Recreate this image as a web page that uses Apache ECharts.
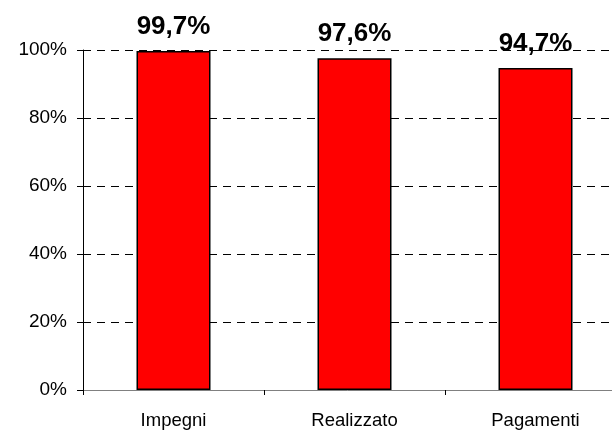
<!DOCTYPE html>
<html>
<head>
<meta charset="utf-8">
<script src="https://cdn.jsdelivr.net/npm/echarts@6/dist/echarts.min.js"></script>
<style>
  html, body { margin: 0; padding: 0; background: #fff; }
  #chart { width: 612px; height: 431px; }
</style>
</head>
<body>
<div id="chart"></div>
<script>
// dati
var categorie = ['Impegni', 'Realizzato', 'Pagamenti'];
var valori = [99.7, 97.6, 94.7];
var tickY = [0, 20, 40, 60, 80, 100];

var myChart = echarts.init(document.getElementById('chart'));

var option = {
  animation: false,
  grid: {
    left: 83,
    top: 50,
    width: 543,
    bottom: 41,
    containLabel: false,
    outerBoundsMode: 'none'
  },
  xAxis: {
    type: 'category',
    data: categorie,
    axisLine: { lineStyle: { color: '#808080', width: 1 } },
    axisTick: { show: true, length: 5, alignWithLabel: false, lineStyle: { color: '#000' } },
    axisLabel: {
      color: '#000',
      fontFamily: 'Liberation Sans, Arial',
      fontSize: 18.5,
      margin: 21
    },
    splitLine: { show: false }
  },
  yAxis: {
    type: 'value',
    min: tickY[0],
    max: tickY[tickY.length - 1],
    interval: 20,
    axisLine: { show: true, lineStyle: { color: '#000', width: 1 } },
    axisTick: { show: true, inside: false, length: 6, lineStyle: { color: '#000' } },
    axisLabel: {
      color: '#000',
      fontFamily: 'Liberation Sans, Arial',
      fontSize: 19,
      margin: 16,
      formatter: function (v) { return v + '%'; }
    },
    splitLine: {
      show: true,
      lineStyle: { color: '#000', type: [8, 6], width: 1 }
    }
  },
  series: [
    {
      type: 'bar',
      data: valori,
      barWidth: 74,
      itemStyle: {
        color: '#ff0000',
        borderColor: '#000',
        borderWidth: 1.5
      },
      label: {
        show: true,
        position: 'top',
        distance: 11,
        color: '#000',
        fontFamily: 'Liberation Sans, Arial',
        fontSize: 26,
        fontWeight: 'bold',
        formatter: function (p) { return String(p.value).replace('.', ',') + '%'; }
      }
    }
  ]
};

myChart.setOption(option);
</script>
</body>
</html>
